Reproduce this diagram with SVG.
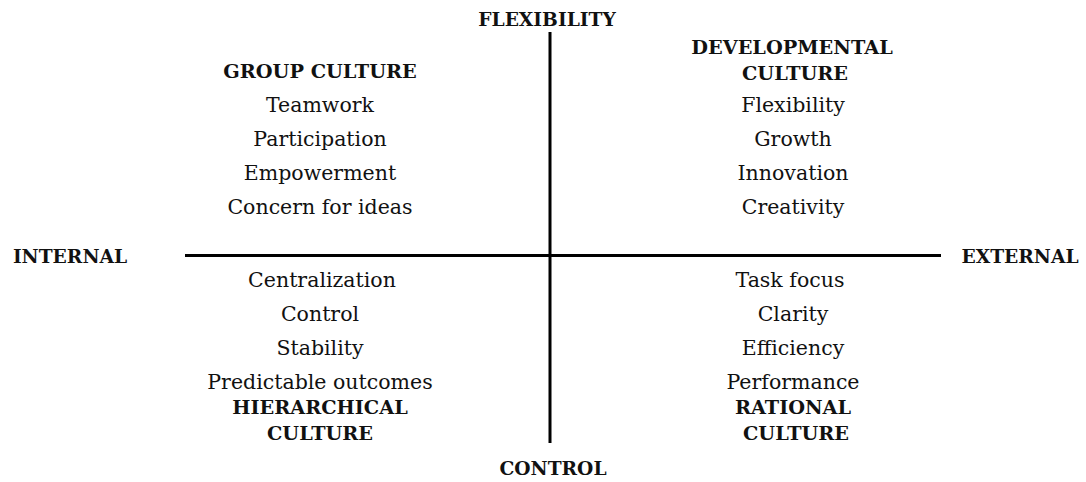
<svg xmlns="http://www.w3.org/2000/svg" width="1086" height="482" viewBox="0 0 1086 482">
<style>
text{font-family:"DejaVu Serif","Liberation Serif",serif;fill:#111;text-anchor:middle}
.b{font-weight:bold;font-size:19.3px}
.a{font-weight:bold;font-size:18.7px}
.r{font-size:20.5px}
.ax{stroke:#000;stroke-width:3;fill:none}
</style>
<rect width="1086" height="482" fill="#fff"/>
<g id="connectors">
<line class="ax" x1="550" y1="32" x2="550" y2="443"/>
<line class="ax" x1="185" y1="255.5" x2="941" y2="255.5"/>
</g>
<g id="axis-flexibility"><text class="a" x="547" y="26">FLEXIBILITY</text></g>
<g id="axis-control"><text class="a" x="553" y="475">CONTROL</text></g>
<g id="axis-internal"><text class="a" x="70" y="263">INTERNAL</text></g>
<g id="axis-external"><text class="a" x="1020" y="263">EXTERNAL</text></g>
<g id="group-culture">
<text class="b" x="320" y="78">GROUP CULTURE</text>
<text class="r" x="320" y="112">Teamwork</text>
<text class="r" x="320" y="146">Participation</text>
<text class="r" x="320" y="180">Empowerment</text>
<text class="r" x="320" y="214">Concern for ideas</text>
</g>
<g id="developmental-culture">
<text class="b" x="792" y="54">DEVELOPMENTAL</text>
<text class="b" x="795" y="80">CULTURE</text>
<text class="r" x="793" y="112">Flexibility</text>
<text class="r" x="793" y="146">Growth</text>
<text class="r" x="793" y="180">Innovation</text>
<text class="r" x="793" y="214">Creativity</text>
</g>
<g id="hierarchical-culture">
<text class="r" x="322" y="287">Centralization</text>
<text class="r" x="320" y="321">Control</text>
<text class="r" x="320" y="355">Stability</text>
<text class="r" x="320" y="389">Predictable outcomes</text>
<text class="b" x="320" y="414">HIERARCHICAL</text>
<text class="b" x="320" y="440">CULTURE</text>
</g>
<g id="rational-culture">
<text class="r" x="790" y="287">Task focus</text>
<text class="r" x="793" y="321">Clarity</text>
<text class="r" x="793" y="355">Efficiency</text>
<text class="r" x="793" y="389">Performance</text>
<text class="b" x="793" y="414">RATIONAL</text>
<text class="b" x="796" y="440">CULTURE</text>
</g>
</svg>
